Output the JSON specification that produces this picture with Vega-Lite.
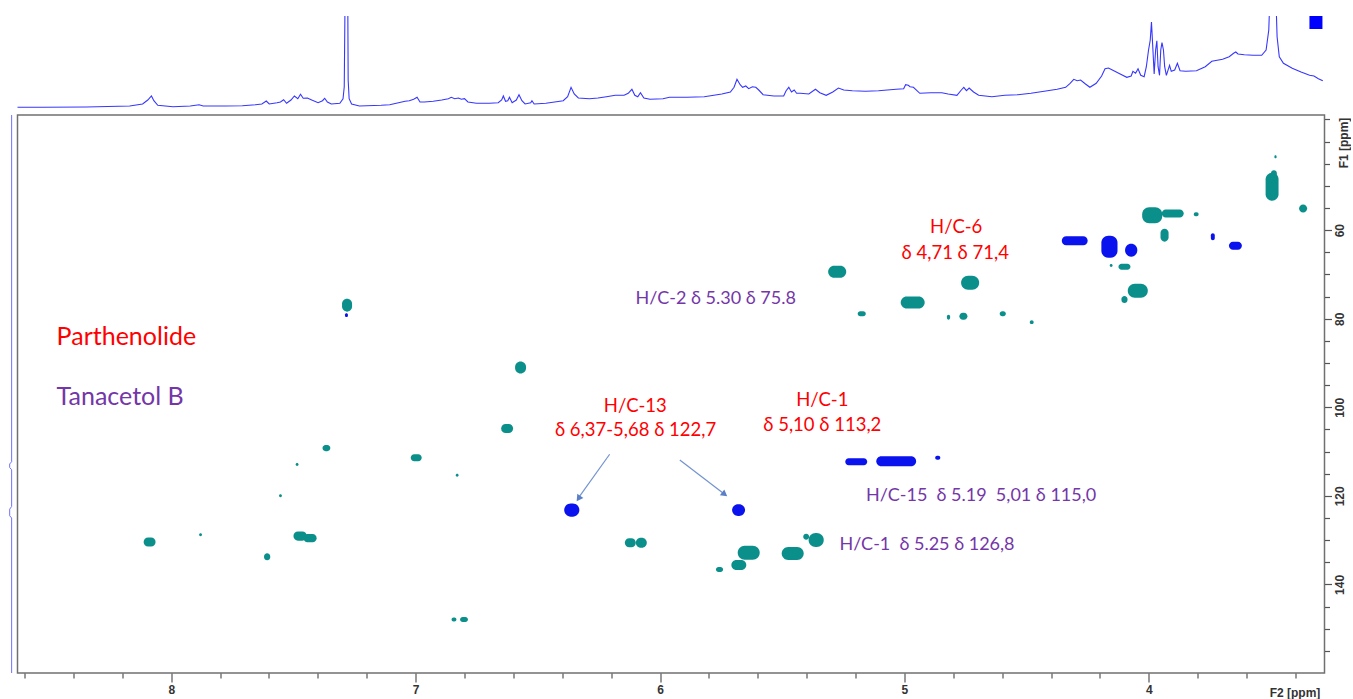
{
  "$schema": "https://vega.github.io/schema/vega-lite/v6.json",
  "background": "white",
  "padding": {"left": 6.5, "top": 16, "right": 0, "bottom": 0},
  "spacing": 2,
  "config": {"font": "Liberation Sans"},
  "datasets": {
    "spectrum": [
      {"ppm":8.632,"h":2.7},{"ppm":8.525,"h":2.7},{"ppm":8.348,"h":3.0},{"ppm":8.170,"h":4.0},{"ppm":8.117,"h":6.0},{"ppm":8.096,"h":10.0},{"ppm":8.081,"h":14.0},{"ppm":8.071,"h":9.3},{"ppm":8.055,"h":4.7},{"ppm":7.993,"h":3.3},{"ppm":7.922,"h":4.0},{"ppm":7.886,"h":5.3},{"ppm":7.869,"h":4.0},{"ppm":7.780,"h":4.0},{"ppm":7.709,"h":4.3},{"ppm":7.655,"h":5.3},{"ppm":7.629,"h":6.0},{"ppm":7.611,"h":9.0},{"ppm":7.599,"h":6.0},{"ppm":7.567,"h":7.3},{"ppm":7.553,"h":8.0},{"ppm":7.540,"h":10.3},{"ppm":7.528,"h":6.7},{"ppm":7.510,"h":10.0},{"ppm":7.496,"h":14.0},{"ppm":7.482,"h":11.3},{"ppm":7.471,"h":15.7},{"ppm":7.460,"h":11.7},{"ppm":7.443,"h":12.0},{"ppm":7.425,"h":10.0},{"ppm":7.399,"h":7.3},{"ppm":7.381,"h":9.3},{"ppm":7.372,"h":11.7},{"ppm":7.361,"h":8.0},{"ppm":7.345,"h":6.0},{"ppm":7.310,"h":6.7},{"ppm":7.297,"h":11.3},{"ppm":7.292,"h":23.3},{"ppm":7.288,"h":130},{"ppm":7.283,"h":130},{"ppm":7.278,"h":130},{"ppm":7.276,"h":30},{"ppm":7.272,"h":11.3},{"ppm":7.262,"h":6.0},{"ppm":7.230,"h":4.0},{"ppm":7.141,"h":4.7},{"ppm":7.106,"h":5.3},{"ppm":7.070,"h":7.3},{"ppm":7.043,"h":8.7},{"ppm":7.026,"h":9.3},{"ppm":7.008,"h":10.7},{"ppm":6.994,"h":12.7},{"ppm":6.982,"h":8.0},{"ppm":6.964,"h":8.0},{"ppm":6.928,"h":8.7},{"ppm":6.893,"h":10.0},{"ppm":6.866,"h":11.3},{"ppm":6.854,"h":12.7},{"ppm":6.840,"h":11.3},{"ppm":6.825,"h":12.0},{"ppm":6.813,"h":10.7},{"ppm":6.800,"h":11.3},{"ppm":6.786,"h":8.0},{"ppm":6.751,"h":6.7},{"ppm":6.698,"h":6.7},{"ppm":6.662,"h":7.3},{"ppm":6.648,"h":10.0},{"ppm":6.641,"h":14.0},{"ppm":6.632,"h":8.7},{"ppm":6.623,"h":9.3},{"ppm":6.616,"h":12.7},{"ppm":6.605,"h":7.3},{"ppm":6.588,"h":10.0},{"ppm":6.577,"h":15.3},{"ppm":6.565,"h":9.3},{"ppm":6.552,"h":6.0},{"ppm":6.529,"h":7.3},{"ppm":6.524,"h":9.3},{"ppm":6.515,"h":6.0},{"ppm":6.467,"h":6.7},{"ppm":6.431,"h":8.0},{"ppm":6.396,"h":9.3},{"ppm":6.378,"h":13.3},{"ppm":6.364,"h":22.7},{"ppm":6.351,"h":16.0},{"ppm":6.334,"h":12.0},{"ppm":6.289,"h":11.3},{"ppm":6.254,"h":12.0},{"ppm":6.219,"h":13.3},{"ppm":6.183,"h":14.7},{"ppm":6.147,"h":14.7},{"ppm":6.130,"h":16.7},{"ppm":6.115,"h":20.7},{"ppm":6.103,"h":14.7},{"ppm":6.091,"h":13.3},{"ppm":6.080,"h":17.3},{"ppm":6.066,"h":12.0},{"ppm":6.041,"h":10.7},{"ppm":5.988,"h":11.3},{"ppm":5.961,"h":12.7},{"ppm":5.890,"h":12.7},{"ppm":5.819,"h":13.3},{"ppm":5.747,"h":16.0},{"ppm":5.712,"h":18.0},{"ppm":5.697,"h":22.7},{"ppm":5.685,"h":30.7},{"ppm":5.672,"h":25.3},{"ppm":5.662,"h":22.7},{"ppm":5.649,"h":24.0},{"ppm":5.637,"h":21.3},{"ppm":5.622,"h":23.3},{"ppm":5.608,"h":22.7},{"ppm":5.596,"h":20.0},{"ppm":5.578,"h":15.3},{"ppm":5.534,"h":14.0},{"ppm":5.494,"h":14.0},{"ppm":5.484,"h":19.3},{"ppm":5.473,"h":22.7},{"ppm":5.462,"h":18.0},{"ppm":5.451,"h":20.0},{"ppm":5.441,"h":16.7},{"ppm":5.426,"h":16.7},{"ppm":5.391,"h":16.0},{"ppm":5.364,"h":20.7},{"ppm":5.346,"h":17.3},{"ppm":5.320,"h":14.7},{"ppm":5.293,"h":18.0},{"ppm":5.270,"h":22.0},{"ppm":5.248,"h":20.0},{"ppm":5.213,"h":19.3},{"ppm":5.159,"h":18.7},{"ppm":5.106,"h":19.3},{"ppm":5.034,"h":20.7},{"ppm":5.003,"h":21.3},{"ppm":4.995,"h":25.3},{"ppm":4.984,"h":24.7},{"ppm":4.977,"h":23.3},{"ppm":4.963,"h":22.7},{"ppm":4.937,"h":16.7},{"ppm":4.892,"h":17.3},{"ppm":4.847,"h":17.3},{"ppm":4.821,"h":16.0},{"ppm":4.785,"h":14.7},{"ppm":4.767,"h":20.0},{"ppm":4.757,"h":22.7},{"ppm":4.746,"h":19.3},{"ppm":4.735,"h":22.0},{"ppm":4.717,"h":18.0},{"ppm":4.696,"h":14.7},{"ppm":4.642,"h":13.3},{"ppm":4.589,"h":14.7},{"ppm":4.536,"h":15.3},{"ppm":4.482,"h":16.7},{"ppm":4.428,"h":18.7},{"ppm":4.375,"h":20.7},{"ppm":4.340,"h":22.7},{"ppm":4.322,"h":26.7},{"ppm":4.307,"h":30.7},{"ppm":4.293,"h":29.3},{"ppm":4.279,"h":30.0},{"ppm":4.259,"h":26.0},{"ppm":4.241,"h":22.7},{"ppm":4.215,"h":26.7},{"ppm":4.193,"h":34.0},{"ppm":4.179,"h":41.3},{"ppm":4.165,"h":42.0},{"ppm":4.143,"h":39.3},{"ppm":4.117,"h":36.0},{"ppm":4.090,"h":32.7},{"ppm":4.072,"h":34.0},{"ppm":4.065,"h":38.7},{"ppm":4.054,"h":36.7},{"ppm":4.044,"h":41.3},{"ppm":4.033,"h":34.7},{"ppm":4.019,"h":33.3},{"ppm":4.010,"h":43.3},{"ppm":4.001,"h":60.0},{"ppm":3.994,"h":70.0},{"ppm":3.989,"h":88.0},{"ppm":3.983,"h":60.0},{"ppm":3.978,"h":36.0},{"ppm":3.972,"h":60.0},{"ppm":3.967,"h":69.3},{"ppm":3.962,"h":43.3},{"ppm":3.956,"h":34.7},{"ppm":3.951,"h":60.0},{"ppm":3.946,"h":67.3},{"ppm":3.940,"h":60.0},{"ppm":3.935,"h":43.3},{"ppm":3.928,"h":34.7},{"ppm":3.915,"h":44.7},{"ppm":3.908,"h":38.7},{"ppm":3.894,"h":40.0},{"ppm":3.883,"h":46.7},{"ppm":3.872,"h":39.3},{"ppm":3.849,"h":38.7},{"ppm":3.805,"h":39.3},{"ppm":3.769,"h":43.3},{"ppm":3.742,"h":48.7},{"ppm":3.698,"h":50.7},{"ppm":3.671,"h":53.3},{"ppm":3.653,"h":56.7},{"ppm":3.644,"h":58.0},{"ppm":3.635,"h":56.0},{"ppm":3.609,"h":55.3},{"ppm":3.573,"h":54.7},{"ppm":3.538,"h":54.7},{"ppm":3.520,"h":60.0},{"ppm":3.509,"h":80.0},{"ppm":3.502,"h":130},{"ppm":3.491,"h":130},{"ppm":3.482,"h":130},{"ppm":3.475,"h":73.3},{"ppm":3.466,"h":53.3},{"ppm":3.449,"h":46.7},{"ppm":3.413,"h":41.7},{"ppm":3.377,"h":38.0},{"ppm":3.342,"h":34.7},{"ppm":3.324,"h":34.0},{"ppm":3.306,"h":31.3},{"ppm":3.288,"h":29.3}
    ],
    "marker": [{"ppm": 3.316, "h": 87.5}],
    "peaks": [
      {"h1":7.301,"h2":7.260,"c1":75.47,"c2":78.40,"p":"CH/CH3"},
      {"h1":7.289,"h2":7.277,"c1":78.74,"c2":79.64,"p":"CH2"},
      {"h1":6.593,"h2":6.548,"c1":89.65,"c2":92.36,"p":"CH/CH3"},
      {"h1":6.650,"h2":6.601,"c1":103.76,"c2":105.79,"p":"CH/CH3"},
      {"h1":7.381,"h2":7.349,"c1":108.54,"c2":109.90,"p":"CH/CH3"},
      {"h1":7.491,"h2":7.479,"c1":112.56,"c2":113.24,"p":"CH/CH3"},
      {"h1":7.020,"h2":6.975,"c1":110.62,"c2":112.20,"p":"CH/CH3"},
      {"h1":6.836,"h2":6.824,"c1":114.98,"c2":115.66,"p":"CH/CH3"},
      {"h1":7.559,"h2":7.547,"c1":119.65,"c2":120.33,"p":"CH/CH3"},
      {"h1":7.886,"h2":7.874,"c1":128.46,"c2":129.14,"p":"CH/CH3"},
      {"h1":8.113,"h2":8.064,"c1":129.43,"c2":131.46,"p":"CH/CH3"},
      {"h1":7.500,"h2":7.445,"c1":128.07,"c2":130.11,"p":"CH/CH3"},
      {"h1":7.459,"h2":7.405,"c1":128.64,"c2":130.45,"p":"CH/CH3"},
      {"h1":7.620,"h2":7.595,"c1":132.97,"c2":134.55,"p":"CH/CH3"},
      {"h1":6.853,"h2":6.833,"c1":147.45,"c2":148.35,"p":"CH/CH3"},
      {"h1":6.818,"h2":6.786,"c1":147.33,"c2":148.46,"p":"CH/CH3"},
      {"h1":6.392,"h2":6.330,"c1":121.75,"c2":124.69,"p":"CH2"},
      {"h1":5.705,"h2":5.652,"c1":121.87,"c2":124.57,"p":"CH2"},
      {"h1":6.144,"h2":6.099,"c1":129.59,"c2":131.62,"p":"CH/CH3"},
      {"h1":6.099,"h2":6.054,"c1":129.47,"c2":131.73,"p":"CH/CH3"},
      {"h1":5.682,"h2":5.592,"c1":131.28,"c2":134.44,"p":"CH/CH3"},
      {"h1":5.708,"h2":5.647,"c1":134.51,"c2":136.77,"p":"CH/CH3"},
      {"h1":5.771,"h2":5.742,"c1":136.04,"c2":137.17,"p":"CH/CH3"},
      {"h1":5.502,"h2":5.412,"c1":131.53,"c2":134.46,"p":"CH/CH3"},
      {"h1":5.392,"h2":5.330,"c1":128.41,"c2":131.57,"p":"CH/CH3"},
      {"h1":5.414,"h2":5.390,"c1":128.57,"c2":129.92,"p":"CH/CH3"},
      {"h1":5.242,"h2":5.152,"c1":111.52,"c2":113.10,"p":"CH2"},
      {"h1":5.115,"h2":4.952,"c1":111.03,"c2":113.29,"p":"CH2"},
      {"h1":4.874,"h2":4.853,"c1":110.96,"c2":111.86,"p":"CH2"},
      {"h1":5.312,"h2":5.238,"c1":68.06,"c2":70.77,"p":"CH/CH3"},
      {"h1":4.768,"h2":4.694,"c1":70.32,"c2":73.48,"p":"CH/CH3"},
      {"h1":5.015,"h2":4.917,"c1":74.97,"c2":77.68,"p":"CH/CH3"},
      {"h1":5.191,"h2":5.158,"c1":78.33,"c2":79.46,"p":"CH/CH3"},
      {"h1":4.826,"h2":4.813,"c1":79.08,"c2":80.21,"p":"CH/CH3"},
      {"h1":4.775,"h2":4.742,"c1":78.63,"c2":80.21,"p":"CH/CH3"},
      {"h1":4.610,"h2":4.585,"c1":78.33,"c2":79.46,"p":"CH/CH3"},
      {"h1":4.487,"h2":4.471,"c1":80.32,"c2":81.22,"p":"CH/CH3"},
      {"h1":4.356,"h2":4.250,"c1":61.40,"c2":63.43,"p":"CH2"},
      {"h1":4.194,"h2":4.128,"c1":61.29,"c2":66.25,"p":"CH2"},
      {"h1":4.097,"h2":4.047,"c1":63.05,"c2":65.98,"p":"CH2"},
      {"h1":4.124,"h2":4.075,"c1":67.61,"c2":68.96,"p":"CH/CH3"},
      {"h1":4.086,"h2":4.004,"c1":72.12,"c2":75.29,"p":"CH/CH3"},
      {"h1":4.112,"h2":4.087,"c1":74.86,"c2":76.44,"p":"CH/CH3"},
      {"h1":4.160,"h2":4.148,"c1":67.63,"c2":68.31,"p":"CH/CH3"},
      {"h1":4.027,"h2":3.945,"c1":54.81,"c2":58.42,"p":"CH/CH3"},
      {"h1":3.947,"h2":3.857,"c1":55.33,"c2":57.13,"p":"CH/CH3"},
      {"h1":3.952,"h2":3.919,"c1":59.66,"c2":62.60,"p":"CH/CH3"},
      {"h1":3.816,"h2":3.796,"c1":55.94,"c2":56.84,"p":"CH/CH3"},
      {"h1":3.746,"h2":3.730,"c1":60.72,"c2":62.30,"p":"CH2"},
      {"h1":3.672,"h2":3.619,"c1":62.64,"c2":64.45,"p":"CH2"},
      {"h1":3.522,"h2":3.469,"c1":47.06,"c2":53.38,"p":"CH/CH3"},
      {"h1":3.500,"h2":3.476,"c1":46.45,"c2":48.71,"p":"CH/CH3"},
      {"h1":3.486,"h2":3.477,"c1":43.11,"c2":43.79,"p":"CH/CH3"},
      {"h1":3.385,"h2":3.352,"c1":54.20,"c2":56.00,"p":"CH/CH3"}
    ],
    "labels": [
      {"x":8.469,"y":84.09,"text":"Parthenolide","compound":"Parthenolide","kind":"name"},
      {"x":8.469,"y":97.77,"text":"Tanacetol B","compound":"Tanacetol B","kind":"name"},
      {"x":4.788,"y":59.39,"text":"H/C-6","compound":"Parthenolide","kind":"peak"},
      {"x":4.792,"y":65.26,"text":"δ 4,71 δ 71,4","compound":"Parthenolide","kind":"peak"},
      {"x":6.101,"y":99.67,"text":"H/C-13","compound":"Parthenolide","kind":"peak"},
      {"x":6.100,"y":105.16,"text":"δ 6,37-5,68 δ 122,7","compound":"Parthenolide","kind":"peak"},
      {"x":5.336,"y":98.38,"text":"H/C-1","compound":"Parthenolide","kind":"peak"},
      {"x":5.336,"y":104.03,"text":"δ 5,10 δ 113,2","compound":"Parthenolide","kind":"peak"},
      {"x":6.100,"y":75.58,"text":"H/C-2 δ 5.30 δ 75.8","compound":"Tanacetol B","kind":"peak"},
      {"x":5.157,"y":120.13,"text":"H/C-15\u00a0 δ 5.19\u00a0 5,01 δ 115,0","compound":"Tanacetol B","kind":"peak"},
      {"x":5.266,"y":131.06,"text":"H/C-1\u00a0 δ 5.25 δ 126,8","compound":"Tanacetol B","kind":"peak"}
    ],
    "arrows": [
      {"id":"a","x":6.206,"y":110.6,"x2":6.333,"y2":120.4},
      {"id":"b","x":5.919,"y":111.9,"x2":5.737,"y2":119.6}
    ],
    "heads": [
      {"id":"a","x":6.331,"y":120.4},
      {"id":"b","x":5.739,"y":119.5}
    ],
    "f1proj": [
      {"f2":8.653,"f1":34},{"f2":8.653,"f1":112.3},{"f2":8.661,"f1":112.8},{"f2":8.661,"f1":113.6},{"f2":8.653,"f1":114.1},
      {"f2":8.653,"f1":122.4},{"f2":8.661,"f1":123.0},{"f2":8.661,"f1":124.5},{"f2":8.653,"f1":125.0},{"f2":8.653,"f1":160}
    ]
  },
  "vconcat": [
    {
      "width": 1307,
      "height": 94,
      "view": {"stroke": null},
      "layer": [
        {
          "data": {"name": "spectrum"},
          "mark": {"type": "line", "color": "#3636ff", "strokeWidth": 1.1, "clip": true},
          "encoding": {
            "x": {"field": "ppm", "type": "quantitative", "scale": {"domain": [3.281, 8.629], "reverse": true, "nice": false, "zero": false}, "axis": null},
            "y": {"field": "h", "type": "quantitative", "scale": {"domain": [0, 94], "nice": false}, "axis": null}
          }
        },
        {
          "data": {"name": "marker"},
          "mark": {"type": "point", "shape": "square", "filled": true, "size": 169, "color": "#0000ff", "opacity": 1},
          "encoding": {
            "x": {"field": "ppm", "type": "quantitative", "scale": {"domain": [3.281, 8.629], "reverse": true, "nice": false, "zero": false}, "axis": null},
            "y": {"field": "h", "type": "quantitative", "scale": {"domain": [0, 94], "nice": false}, "axis": null}
          }
        }
      ]
    },
    {
      "width": 1307,
      "height": 558,
      "view": {"stroke": "#707070", "strokeWidth": 1.5},
      "resolve": {"axis": {"x": "independent", "y": "independent"}, "scale": {"color": "independent"}},
      "layer": [
        {
          "data": {"name": "f1proj"},
          "mark": {"type": "line", "color": "#7070ff", "strokeWidth": 1, "clip": false},
          "encoding": {
            "x": {"field": "f2", "type": "quantitative", "scale": {"domain": [3.281, 8.629], "reverse": true, "nice": false, "zero": false}, "axis": null},
            "y": {"field": "f1", "type": "quantitative", "scale": {"domain": [34, 160], "reverse": true, "nice": false, "zero": false}, "axis": null},
            "order": {"field": "f1", "type": "quantitative"}
          }
        },
        {
          "data": {"name": "peaks"},
          "mark": {"type": "rect", "cornerRadius": 7},
          "encoding": {
            "x": {"field": "h1", "type": "quantitative", "scale": {"domain": [3.281, 8.629], "reverse": true, "nice": false, "zero": false},
                  "axis": {"orient": "bottom", "values": [4, 5, 6, 7, 8], "format": "d", "domain": false, "grid": false, "tickSize": 9, "tickColor": "#555555", "tickWidth": 1.2,
                           "labelFont": "Liberation Sans", "labelFontWeight": "bold", "labelFontSize": 12, "labelColor": "#333333", "labelPadding": 2, "labelFlush": false, "labelOverlap": false,
                           "title": "F2 [ppm]", "titleFont": "Liberation Sans", "titleFontWeight": "bold", "titleFontSize": 12, "titleColor": "#333333",
                           "titleX": 1277, "titleY": 19, "titleAlign": "center", "titleBaseline": "middle", "titleAngle": 0}},
            "x2": {"field": "h2"},
            "y": {"field": "c1", "type": "quantitative", "scale": {"domain": [34, 160], "reverse": true, "nice": false, "zero": false},
                  "axis": {"orient": "right", "values": [60, 80, 100, 120, 140], "format": "d", "domain": false, "grid": false, "tickSize": 7, "tickColor": "#555555", "tickWidth": 1.2,
                           "labelFont": "Liberation Sans", "labelFontWeight": "bold", "labelFontSize": 12, "labelColor": "#333333", "labelAngle": 270, "labelAlign": "center", "labelBaseline": "top", "labelPadding": 3, "labelFlush": false, "labelOverlap": false,
                           "title": "F1 [ppm]", "titleFont": "Liberation Sans", "titleFontWeight": "bold", "titleFontSize": 12, "titleColor": "#333333",
                           "titleAngle": 270, "titleX": 19, "titleY": 27.5, "titleAlign": "center", "titleBaseline": "middle"}},
            "y2": {"field": "c2"},
            "color": {"field": "p", "type": "nominal", "scale": {"domain": ["CH/CH3", "CH2"], "range": ["#0b8f8b", "#0a12ee"]}, "legend": null}
          }
        },
        {
          "data": {"name": "labels"},
          "transform": [{"filter": "datum.kind === 'name'"}],
          "mark": {"type": "text", "align": "left", "baseline": "middle", "font": "Lato", "fontSize": 25},
          "encoding": {
            "x": {"field": "x", "type": "quantitative", "scale": {"domain": [3.281, 8.629], "reverse": true, "nice": false, "zero": false},
                  "axis": {"orient": "bottom", "values": [3.4, 3.6, 3.8, 4.2, 4.4, 4.6, 4.8, 5.2, 5.4, 5.6, 5.8, 6.2, 6.4, 6.6, 6.8, 7.2, 7.4, 7.6, 7.8, 8.2, 8.4, 8.6], "labels": false, "domain": false, "grid": false, "tickSize": 5, "tickColor": "#555555", "tickWidth": 1.2, "title": null}},
            "y": {"field": "y", "type": "quantitative", "scale": {"domain": [34, 160], "reverse": true, "nice": false, "zero": false},
                  "axis": {"orient": "right", "values": [35, 40, 45, 50, 55, 65, 70, 75, 85, 90, 95, 105, 110, 115, 125, 130, 135, 145, 150, 155], "labels": false, "domain": false, "grid": false, "tickSize": 5, "tickColor": "#555555", "tickWidth": 1.2, "title": null}},
            "text": {"field": "text"},
            "color": {"field": "compound", "type": "nominal", "scale": {"domain": ["Parthenolide", "Tanacetol B"], "range": ["#ff0000", "#7436a8"]}, "legend": null}
          }
        },
        {
          "data": {"name": "labels"},
          "transform": [{"filter": "datum.kind === 'peak' && datum.compound === 'Parthenolide'"}],
          "mark": {"type": "text", "align": "center", "baseline": "middle", "font": "Lato", "fontSize": 18.5, "color": "#ff0000"},
          "encoding": {
            "x": {"field": "x", "type": "quantitative", "scale": {"domain": [3.281, 8.629], "reverse": true, "nice": false, "zero": false}, "axis": null},
            "y": {"field": "y", "type": "quantitative", "scale": {"domain": [34, 160], "reverse": true, "nice": false, "zero": false}, "axis": null},
            "text": {"field": "text"}
          }
        },
        {
          "data": {"name": "labels"},
          "transform": [{"filter": "datum.kind === 'peak' && datum.compound === 'Tanacetol B'"}],
          "mark": {"type": "text", "align": "left", "baseline": "middle", "font": "Lato", "fontSize": 18, "color": "#7436a8"},
          "encoding": {
            "x": {"field": "x", "type": "quantitative", "scale": {"domain": [3.281, 8.629], "reverse": true, "nice": false, "zero": false}, "axis": null},
            "y": {"field": "y", "type": "quantitative", "scale": {"domain": [34, 160], "reverse": true, "nice": false, "zero": false}, "axis": null},
            "text": {"field": "text"}
          }
        },
        {
          "data": {"name": "arrows"},
          "mark": {"type": "rule", "color": "#7393d0", "strokeWidth": 1.2},
          "encoding": {
            "x": {"field": "x", "type": "quantitative", "scale": {"domain": [3.281, 8.629], "reverse": true, "nice": false, "zero": false}, "axis": null},
            "y": {"field": "y", "type": "quantitative", "scale": {"domain": [34, 160], "reverse": true, "nice": false, "zero": false}, "axis": null},
            "x2": {"field": "x2"},
            "y2": {"field": "y2"}
          }
        },
        {
          "data": {"name": "heads"},
          "transform": [{"filter": "datum.id === 'a'"}],
          "mark": {"type": "point", "shape": "triangle", "filled": true, "size": 55, "color": "#5b7fc7", "opacity": 1, "angle": 215},
          "encoding": {
            "x": {"field": "x", "type": "quantitative", "scale": {"domain": [3.281, 8.629], "reverse": true, "nice": false, "zero": false}, "axis": null},
            "y": {"field": "y", "type": "quantitative", "scale": {"domain": [34, 160], "reverse": true, "nice": false, "zero": false}, "axis": null}
          }
        },
        {
          "data": {"name": "heads"},
          "transform": [{"filter": "datum.id === 'b'"}],
          "mark": {"type": "point", "shape": "triangle", "filled": true, "size": 55, "color": "#5b7fc7", "opacity": 1, "angle": 127},
          "encoding": {
            "x": {"field": "x", "type": "quantitative", "scale": {"domain": [3.281, 8.629], "reverse": true, "nice": false, "zero": false}, "axis": null},
            "y": {"field": "y", "type": "quantitative", "scale": {"domain": [34, 160], "reverse": true, "nice": false, "zero": false}, "axis": null}
          }
        }
      ]
    }
  ]
}
